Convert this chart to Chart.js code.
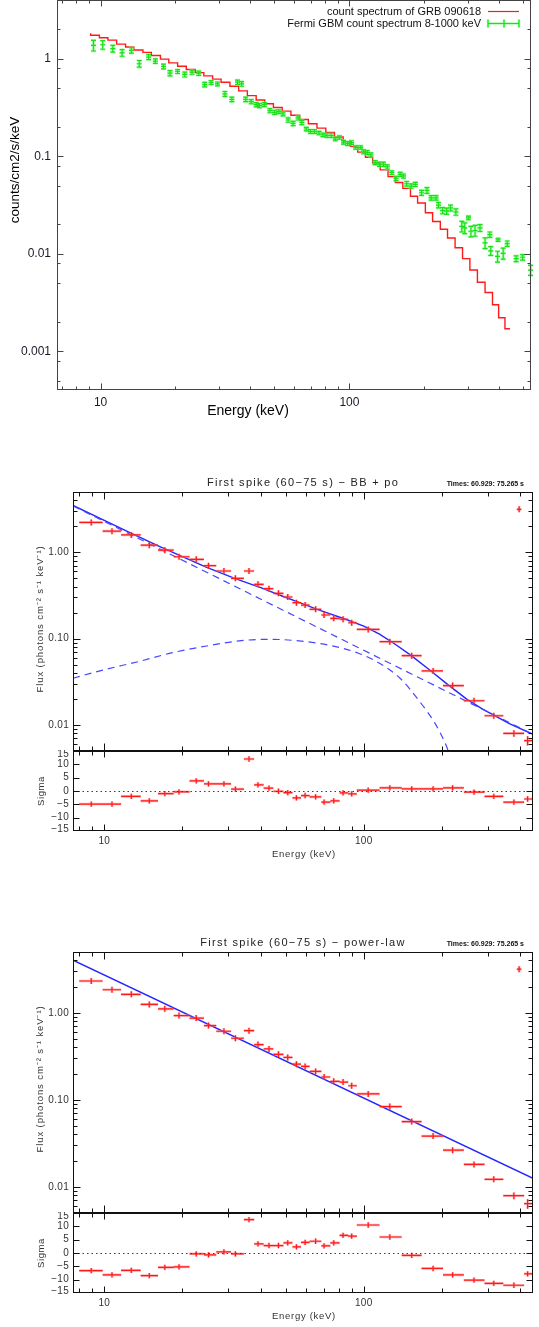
<!DOCTYPE html>
<html>
<head>
<meta charset="utf-8">
<script src="https://cdn.jsdelivr.net/npm/chart.js@4.4.1/dist/chart.umd.min.js"></script>
<style>
  html, body { margin: 0; padding: 0; background: #fff; }
  #wrap { position: relative; width: 539px; height: 1327px; overflow: hidden; }
  #wrap canvas { position: absolute; left: 0; }
</style>
</head>
<body>
<div id="wrap">
  <canvas id="gbm" width="539" height="432" style="top:0px"></canvas>
  <canvas id="bbFluxPanel" width="539" height="282" style="top:470px"></canvas>
  <canvas id="bbSigmaPanel" width="539" height="115" style="top:750px"></canvas>
  <canvas id="plFluxPanel" width="539" height="284" style="top:930px"></canvas>
  <canvas id="plSigmaPanel" width="539" height="115" style="top:1212px"></canvas>
</div>
<script>
// model count spectrum of GRB 090618 (channel low edge in keV, counts/cm2/s/keV)
const modelEnergy = [9.12, 9.89, 10.7, 11.6, 12.6, 13.6, 14.8, 16.0, 17.4, 18.8, 20.4, 22.1, 24.0, 26.0, 28.2, 30.5, 33.1, 35.9, 38.9, 42.2,
  45.7, 49.5, 53.7, 58.2, 63.1, 68.4, 74.1, 80.4, 87.1, 94.4, 101, 108, 116, 124, 133, 143, 153, 164, 176, 188,
  202, 216, 232, 248, 266, 285, 305, 327, 351, 376, 398, 422, 442];
const modelCounts = [1.82, 1.74, 1.64, 1.55, 1.41, 1.32, 1.23, 1.16, 1.08, 0.99, 0.906, 0.838, 0.776, 0.720, 0.667, 0.618, 0.573, 0.522, 0.468, 0.418,
  0.377, 0.345, 0.316, 0.290, 0.263, 0.238, 0.215, 0.194, 0.175, 0.158, 0.141, 0.126, 0.110, 0.0977, 0.0851, 0.0724, 0.0617, 0.0537, 0.0468, 0.0389,
  0.0331, 0.0263, 0.0214, 0.0178, 0.0145, 0.0115, 0.0089, 0.0068, 0.0051, 0.0040, 0.0030, 0.0022, 0.0017];

// Fermi GBM count spectrum 8-1000 keV
const gbmEnergy = [9.36, 10.2, 11.2, 12.2, 13.3, 14.3, 15.6, 16.6, 17.9, 19.0, 20.4, 21.8, 23.3, 24.8, 26.2, 27.8, 29.5, 31.6, 33.7, 35.5,
  36.9, 38.3, 40.3, 42.2, 43.5, 45.5, 47.9, 50.1, 52.0, 54.1, 56.7, 59.4, 62.2, 64.4, 67.1, 69.7, 72.4, 75.5, 78.3, 81.3,
  84.5, 87.8, 91.2, 94.7, 98.4, 102, 106, 111, 114, 118, 122, 127, 132, 137, 142, 148, 154, 160, 165, 170,
  177, 184, 195, 205, 213, 223, 228, 237, 246, 255, 268, 283, 291, 301, 308, 320, 335, 351, 367, 370,
  394, 396, 415, 431, 468, 497, 535];
const gbmCounts = [1.37, 1.39, 1.27, 1.15, 1.22, 0.888, 1.04, 0.945, 0.833, 0.711, 0.740, 0.689, 0.728, 0.711, 0.543, 0.570, 0.552, 0.436, 0.383, 0.574,
  0.552, 0.383, 0.363, 0.338, 0.330, 0.338, 0.293, 0.282, 0.286, 0.271, 0.235, 0.217, 0.247, 0.222, 0.190, 0.179, 0.179, 0.173, 0.166, 0.163,
  0.163, 0.150, 0.156, 0.139, 0.135, 0.138, 0.123, 0.123, 0.111, 0.109, 0.103, 0.0859, 0.0828, 0.0828, 0.0776, 0.0678, 0.0593, 0.0652, 0.0627, 0.0522,
  0.0494, 0.0514, 0.0422, 0.0446, 0.0374, 0.0374, 0.0315, 0.0277, 0.0273, 0.0295, 0.0268, 0.0191, 0.0184, 0.0233, 0.0170, 0.0173, 0.0184, 0.0129, 0.0157, 0.0107,
  0.0094, 0.0139, 0.0101, 0.0127, 0.0089, 0.0092, 0.0068];
const gbmError = [0.17, 0.14, 0.10, 0.09, 0.08, 0.07, 0.06, 0.05, 0.045, 0.045, 0.035, 0.04, 0.035, 0.035, 0.03, 0.025, 0.025, 0.025, 0.02, 0.03,
  0.03, 0.02, 0.018, 0.017, 0.016, 0.016, 0.014, 0.014, 0.012, 0.012, 0.012, 0.011, 0.012, 0.011, 0.008, 0.008, 0.008, 0.007, 0.007, 0.007,
  0.007, 0.006, 0.006, 0.006, 0.006, 0.006, 0.005, 0.005, 0.005, 0.005, 0.005, 0.004, 0.004, 0.004, 0.004, 0.003, 0.003, 0.003, 0.003, 0.0028,
  0.0025, 0.0025, 0.0025, 0.003, 0.002, 0.002, 0.002, 0.002, 0.002, 0.002, 0.002, 0.0024, 0.0023, 0.001, 0.0021, 0.0022, 0.0015, 0.0016, 0.001, 0.0011,
  0.0012, 0.0005, 0.0013, 0.0008, 0.0006, 0.0006, 0.0008];

// first spike (60-75 s): channel grid shared by both fits
const chanEnergy = [8.90, 10.7, 12.7, 14.9, 17.1, 19.4, 22.6, 25.2, 28.9, 32.0, 36.1, 39.1, 43.1, 46.9, 50.9, 55.0, 59.4, 65.2, 70.3, 76.6,
  83.2, 89.8, 104, 126, 153, 185, 220, 266, 317, 379, 428];
const chanLo = [8.0, 9.85, 11.6, 13.8, 16.1, 18.5, 21.3, 24.2, 27.0, 30.8, 34.5, 37.8, 41.1, 44.8, 49.0, 53.1, 57.3, 61.8, 68.6, 74.3,
  80.7, 87.1, 94.0, 115, 140, 167, 202, 243, 292, 345, 415];
const chanHi = [9.85, 11.6, 13.8, 16.1, 18.5, 21.3, 24.2, 27.0, 30.8, 34.5, 37.8, 41.1, 44.8, 49.0, 53.1, 57.3, 61.8, 68.6, 74.3, 80.7,
  87.1, 94.0, 115, 140, 167, 202, 243, 292, 345, 415, 470];

// BB + po fit: unfolded flux and residuals
const bbFlux = [2.22, 1.76, 1.59, 1.21, 1.06, 0.889, 0.830, 0.700, 0.608, 0.500, 0.608, 0.426, 0.379, 0.335, 0.304, 0.261, 0.245, 0.219, 0.188, 0.172,
  0.168, 0.153, 0.128, 0.0923, 0.0636, 0.0423, 0.0286, 0.0191, 0.0128, 0.0080, 0.0066];
const bbFluxErr = [0.05, 0.04, 0.035, 0.025, 0.02, 0.018, 0.016, 0.014, 0.012, 0.01, 0.012, 0.008, 0.007, 0.006, 0.006, 0.005, 0.005, 0.004, 0.004, 0.0035,
  0.0035, 0.003, 0.003, 0.0022, 0.0018, 0.0014, 0.0011, 0.0009, 0.0008, 0.0007, 0.0008];
const bbSigma = [-4.9, -4.9, -2.0, -3.7, -1.0, -0.3, 3.8, 2.7, 2.7, 0.7, 12.0, 2.3, 1.1, -0.1, -0.6, -2.6, -1.7, -2.2, -4.2, -3.7,
  -0.7, -1.1, 0.3, 1.2, 0.8, 0.8, 1.2, -0.4, -2.0, -4.2, -3.0];

// power-law fit: unfolded flux and residuals
const plFlux = [2.32, 1.84, 1.63, 1.25, 1.11, 0.93, 0.869, 0.713, 0.614, 0.510, 0.624, 0.431, 0.384, 0.333, 0.307, 0.257, 0.242, 0.212, 0.183, 0.163,
  0.160, 0.145, 0.117, 0.0837, 0.0562, 0.0383, 0.0264, 0.0181, 0.0122, 0.0079, 0.0064];
const plFluxErr = [0.05, 0.04, 0.035, 0.025, 0.02, 0.018, 0.016, 0.014, 0.012, 0.01, 0.012, 0.008, 0.007, 0.006, 0.006, 0.005, 0.005, 0.004, 0.004, 0.0035,
  0.0035, 0.003, 0.003, 0.0022, 0.0018, 0.0014, 0.0011, 0.0009, 0.0008, 0.0007, 0.0008];
const plSigma = [-6.6, -8.2, -6.5, -8.5, -5.4, -5.2, -0.3, -0.7, 0.4, -0.3, 12.5, 3.4, 2.8, 2.8, 3.8, 2.3, 4.0, 4.4, 2.7, 3.8,
  6.6, 6.3, 10.5, 6.0, -0.9, -5.8, -8.2, -10.2, -11.4, -12.1, -7.8];

// isolated high channel drawn above the spectrum
const strayEnergy = [397];
const strayLo = [389];
const strayHi = [405];
const bbStrayFlux = [3.15];
const plStrayFlux = [3.17];

// model curves
const bbTotalEnergy = [7.57, 9.9, 12.6, 16.2, 19.5, 24.8, 31.8, 40.5, 50.1, 55, 66.1, 84, 100, 115, 133, 152, 180, 212, 250, 286, 364, 449];
const bbTotalFlux = [3.50, 2.37, 1.68, 1.18, 0.92, 0.67, 0.50, 0.385, 0.300, 0.270, 0.218, 0.170, 0.140, 0.113, 0.085, 0.064, 0.043, 0.029, 0.0198, 0.0154, 0.0104, 0.0078];
const bbPoEnergy = [7.57, 449];
const bbPoFlux = [3.45, 0.0078];
const bbBodyEnergy = [7.57, 9.9, 13.5, 18.3, 24.8, 33.7, 43.1, 55.1, 72.6, 95.5, 115, 138, 166, 188, 206, 213];
const bbBodyFlux = [0.0348, 0.0434, 0.0542, 0.0689, 0.0823, 0.0948, 0.0984, 0.0948, 0.0845, 0.0678, 0.0519, 0.0348, 0.0179, 0.0105, 0.00615, 0.0048];
const plModelEnergy = [7.57, 449];
const plModelFlux = [4.02, 0.0125];

// tick labels
const countTickValues = [1, 0.1, 0.01, 0.001];
const countTickLabels = ['1', '0.1', '0.01', '0.001'];
const energyTickValues = [10, 100];
const energyTickLabels = ['10', '100'];
const fluxTickValues = [1, 0.1, 0.01];
const fluxTickLabels = ['1.00', '0.10', '0.01'];
const sigmaTickValues = [15, 10, 5, 0, -5, -10, -15];
const sigmaTickLabels = ['15', '10', '5', '0', '\u22125', '\u221210', '\u221215'];

const SANS = '"Liberation Sans", Arial, Helvetica, sans-serif';
const RED = '#ff1a1a';
const BLUE = '#2424ff';

function logTicks(lo, hi, mults) {
  const out = [];
  for (let d = Math.floor(Math.log10(lo)); d <= Math.ceil(Math.log10(hi)); d++) {
    mults.forEach(m => {
      const v = m * Math.pow(10, d);
      if (v >= lo * 0.999 && v <= hi * 1.001) out.push({ v, major: m === 1 });
    });
  }
  return out;
}

// error bars / crosses, drawn from each dataset's points through the chart scales
const errorBars = {
  id: 'errorBars',
  afterDatasetsDraw(chart) {
    const { ctx, chartArea: a, scales: { x, y } } = chart;
    chart.data.datasets.forEach(ds => {
      if (!ds.bars) return;
      const b = ds.bars;
      ctx.save();
      if (b.clip) { ctx.beginPath(); ctx.rect(a.left, a.top, a.right - a.left, a.bottom - a.top); ctx.clip(); }
      const passes = [{ w: b.haloWidth, c: b.halo }, { w: b.width, c: b.color }];
      passes.forEach(pass => {
        ctx.strokeStyle = pass.c;
        ctx.lineWidth = pass.w;
        ctx.beginPath();
        ds.data.forEach(p => {
          const px = x.getPixelForValue(p.x), py = y.getPixelForValue(p.y);
          let top = y.getPixelForValue(p.yMax), bot = y.getPixelForValue(p.yMin);
          if (b.style === 'cross') {
            top = Math.min(top, py - b.arm); bot = Math.max(bot, py + b.arm);
            ctx.moveTo(x.getPixelForValue(p.xMin), py); ctx.lineTo(x.getPixelForValue(p.xMax), py);
            ctx.moveTo(px, top); ctx.lineTo(px, bot);
          } else {
            ctx.moveTo(px, top); ctx.lineTo(px, bot);
            ctx.moveTo(px - b.cap, top); ctx.lineTo(px + b.cap, top);
            ctx.moveTo(px - b.cap, bot); ctx.lineTo(px + b.cap, bot);
            ctx.moveTo(px - b.cap, py); ctx.lineTo(px + b.cap, py);
          }
        });
        ctx.stroke();
      });
      ctx.restore();
    });
  }
};

// box, inward ticks, tick labels and free text for one panel
function makeFrame(f) {
  return {
    id: 'frame',
    afterDraw(chart) {
      const { ctx, chartArea: a, scales: { x, y } } = chart;
      const L = Math.round(a.left) + 0.5, R = Math.round(a.right) - 0.5;
      const T = Math.round(a.top) + 0.5, B = Math.round(a.bottom) - 0.5;
      ctx.save();
      ctx.strokeStyle = f.color;
      ctx.lineWidth = 1;
      if (f.zeroLine) {
        ctx.save();
        ctx.strokeStyle = BLUE; ctx.setLineDash([1.5, 3]);
        const z = Math.round(y.getPixelForValue(0)) + 0.5;
        ctx.beginPath(); ctx.moveTo(L, z); ctx.lineTo(R, z); ctx.stroke();
        ctx.restore();
      }
      ctx.strokeRect(L, T, R - L, B - T);
      ctx.beginPath();
      f.xTicks.forEach(t => {
        const px = Math.round(x.getPixelForValue(t.v)) + 0.5;
        const len = t.major ? f.majorLen : f.minorLen;
        if (px < L || px > R) return;
        ctx.moveTo(px, B); ctx.lineTo(px, B - len);
        ctx.moveTo(px, T); ctx.lineTo(px, T + len);
      });
      f.yTicks.forEach(t => {
        const py = Math.round(y.getPixelForValue(t.v)) + 0.5;
        const len = t.major ? f.majorLen : f.minorLen;
        if (py < T - 0.1 || py > B + 0.1) return;
        ctx.moveTo(L, py); ctx.lineTo(L + len, py);
        ctx.moveTo(R, py); ctx.lineTo(R - len, py);
      });
      ctx.stroke();

      ctx.fillStyle = f.textColor;
      ctx.textBaseline = 'middle';
      if (f.yLabels) {
        ctx.font = f.tickFont;
        ctx.textAlign = 'right';
        ctx.letterSpacing = f.tickSpacing || '0px';
        f.yLabels.values.forEach((v, i) => {
          let py = y.getPixelForValue(v);
          py = Math.max(a.top + f.clampTop, Math.min(a.bottom - f.clampBottom, py));
          ctx.fillText(f.yLabels.text[i], a.left - f.yGap, py);
        });
      }
      if (f.xLabels) {
        ctx.font = f.tickFont;
        ctx.textAlign = 'center';
        ctx.letterSpacing = f.tickSpacing || '0px';
        f.xLabels.values.forEach((v, i) => {
          ctx.fillText(f.xLabels.text[i], x.getPixelForValue(v), a.bottom + f.xGap);
        });
      }
      (f.texts || []).forEach(t => {
        ctx.save();
        ctx.font = t.font;
        ctx.fillStyle = t.color || f.textColor;
        ctx.letterSpacing = t.spacing || '0px';
        ctx.textAlign = t.align || 'center';
        ctx.textBaseline = 'middle';
        ctx.translate(t.x, t.y);
        if (t.rot) ctx.rotate(t.rot);
        ctx.fillText(t.text, 0, 0);
        ctx.restore();
      });
      ctx.restore();
    }
  };
}

function makeChart(id, cfg, extraPlugins) {
  return new Chart(document.getElementById(id), {
    type: 'scatter',
    data: { datasets: cfg.datasets },
    options: {
      responsive: false,
      animation: false,
      events: [],
      layout: { padding: cfg.pad },
      scales: {
        x: { type: 'logarithmic', display: false, min: cfg.xMin, max: cfg.xMax },
        y: { type: cfg.yType, display: false, min: cfg.yMin, max: cfg.yMax }
      },
      plugins: { legend: { display: false }, tooltip: { enabled: false } }
    },
    plugins: [errorBars, makeFrame(cfg.frame)].concat(extraPlugins || [])
  });
}

function lineSet(xs, ys, style) {
  return Object.assign({
    data: xs.map((v, i) => ({ x: v, y: ys[i] })),
    showLine: true, pointRadius: 0, fill: false
  }, style);
}

function crossSet(xs, lo, hi, ys, err, arm) {
  return {
    data: xs.map((v, i) => ({ x: v, y: ys[i], xMin: lo[i], xMax: hi[i], yMin: ys[i] - err[i], yMax: ys[i] + err[i] })),
    pointRadius: 0,
    bars: { style: 'cross', arm, clip: true, color: RED, width: 1.2, halo: 'rgba(255,120,120,0.55)', haloWidth: 2.6 }
  };
}

// ---------------- top: GRB 090618 count spectrum ----------------
const gbmLegend = {
  id: 'gbmLegend',
  afterDraw(chart) {
    const { ctx } = chart;
    ctx.save();
    ctx.font = '11px ' + SANS;
    ctx.fillStyle = '#111';
    ctx.textAlign = 'right';
    ctx.textBaseline = 'middle';
    ctx.fillText('count spectrum of GRB 090618', 481, 12);
    ctx.fillText('Fermi GBM count spectrum 8-1000 keV', 481, 24);
    ctx.strokeStyle = RED; ctx.lineWidth = 1.2;
    ctx.beginPath(); ctx.moveTo(488, 11.5); ctx.lineTo(519, 11.5); ctx.stroke();
    [{ w: 2.6, c: 'rgba(120,255,120,0.6)' }, { w: 1.2, c: '#19e019' }].forEach(p => {
      ctx.strokeStyle = p.c; ctx.lineWidth = p.w;
      ctx.beginPath();
      ctx.moveTo(488, 23.5); ctx.lineTo(519, 23.5);
      [488, 504, 519].forEach(px => { ctx.moveTo(px, 19.5); ctx.lineTo(px, 27.5); });
      ctx.stroke();
    });
    ctx.restore();
  }
};

makeChart('gbm', {
  pad: { left: 57, right: 8, top: 0, bottom: 42 },
  xMin: 6.68, xMax: 537, yType: 'logarithmic', yMin: 4e-4, yMax: 4,
  datasets: [
    lineSet(modelEnergy, modelCounts, { borderColor: RED, borderWidth: 1.4, stepped: 'after' }),
    {
      data: gbmEnergy.map((v, i) => ({ x: v, y: gbmCounts[i], yMin: gbmCounts[i] - gbmError[i], yMax: gbmCounts[i] + gbmError[i] })),
      pointRadius: 0,
      bars: { style: 'bar', cap: 2.5, clip: false, color: '#19e019', width: 1.2, halo: 'rgba(120,255,120,0.6)', haloWidth: 2.6 }
    }
  ],
  frame: {
    color: '#444', textColor: '#1a1a2a', majorLen: 6, minorLen: 3,
    xTicks: logTicks(6.68, 537, [1, 2, 3, 4, 5, 6, 7, 8, 9]),
    yTicks: logTicks(4e-4, 4, [1, 2, 5, 8]),
    tickFont: '12px ' + SANS, yGap: 6, xGap: 13, clampTop: 0, clampBottom: 0,
    yLabels: { values: countTickValues, text: countTickLabels },
    xLabels: { values: energyTickValues, text: energyTickLabels },
    texts: [
      { text: 'counts/cm2/s/keV', x: 15, y: 170, rot: -Math.PI / 2, font: '13.5px ' + SANS, color: '#000' },
      { text: 'Energy (keV)', x: 248, y: 411, font: '14px ' + SANS, color: '#000' }
    ]
  }
}, [gbmLegend]);

// ---------------- shared pieces for the two unfolded-spectrum panels ----------------
const fluxFrame = (title) => ({
  color: '#111', textColor: '#333', majorLen: 7, minorLen: 4,
  xTicks: logTicks(7.57, 449, [1, 2, 3, 4, 5, 6, 7, 8, 9]),
  yTicks: logTicks(0.005, 5, [1, 2, 3, 4, 5, 6, 7, 8, 9]),
  tickFont: '10px ' + SANS, tickSpacing: '0.3px', yGap: 4, clampTop: 0, clampBottom: 0,
  yLabels: { values: fluxTickValues, text: fluxTickLabels },
  texts: [
    { text: title, x: 303, y: 13, font: '11px ' + SANS, spacing: '1.3px', color: '#222' },
    { text: 'Times: 60.929: 75.265 s', x: 524, y: 14, align: 'right', font: 'bold 7px ' + SANS, color: '#111' },
    { text: 'Flux (photons cm\u207B\u00B2 s\u207B\u00B9 keV\u207B\u00B9)', x: 40, y: 149, rot: -Math.PI / 2, font: '9.5px ' + SANS, spacing: '0.9px', color: '#333' }
  ]
});

const sigmaFrame = () => ({
  color: '#111', textColor: '#333', majorLen: 6, minorLen: 4, zeroLine: true,
  xTicks: logTicks(7.57, 449, [1, 2, 3, 4, 5, 6, 7, 8, 9]),
  yTicks: sigmaTickValues.map(v => ({ v, major: true })),
  tickFont: '10px ' + SANS, tickSpacing: '0.3px', yGap: 4, xGap: 10, clampTop: 3, clampBottom: 2,
  yLabels: { values: sigmaTickValues, text: sigmaTickLabels },
  xLabels: { values: energyTickValues, text: energyTickLabels },
  texts: [
    { text: 'Sigma', x: 41, y: 41, rot: -Math.PI / 2, font: '9.5px ' + SANS, spacing: '0.6px', color: '#333' },
    { text: 'Energy (keV)', x: 304, y: 104, font: '9.5px ' + SANS, spacing: '0.7px', color: '#333' }
  ]
});

const sigmaErr = chanEnergy.map(() => 1);

// ---------------- middle: BB + po ----------------
makeChart('bbFluxPanel', {
  pad: { left: 73, right: 6, top: 22, bottom: 1 },
  xMin: 7.57, xMax: 449, yType: 'logarithmic', yMin: 0.005, yMax: 5,
  datasets: [
    lineSet(bbPoEnergy, bbPoFlux, { borderColor: '#4646ff', borderWidth: 1.2, borderDash: [7, 5] }),
    lineSet(bbBodyEnergy, bbBodyFlux, { borderColor: '#4646ff', borderWidth: 1.2, borderDash: [7, 5], cubicInterpolationMode: 'monotone' }),
    lineSet(bbTotalEnergy, bbTotalFlux, { borderColor: BLUE, borderWidth: 1.4 }),
    crossSet(chanEnergy, chanLo, chanHi, bbFlux, bbFluxErr, 3),
    crossSet(strayEnergy, strayLo, strayHi, bbStrayFlux, [0.05], 3)
  ],
  frame: fluxFrame('First spike (60\u221275 s) \u2212 BB + po')
});

makeChart('bbSigmaPanel', {
  pad: { left: 73, right: 6, top: 1, bottom: 34 },
  xMin: 7.57, xMax: 449, yType: 'linear', yMin: -15, yMax: 15,
  datasets: [crossSet(chanEnergy, chanLo, chanHi, bbSigma, sigmaErr, 2.5)],
  frame: sigmaFrame()
});

// ---------------- bottom: power-law ----------------
makeChart('plFluxPanel', {
  pad: { left: 73, right: 6, top: 22, bottom: 1 },
  xMin: 7.57, xMax: 449, yType: 'logarithmic', yMin: 0.005, yMax: 5,
  datasets: [
    lineSet(plModelEnergy, plModelFlux, { borderColor: BLUE, borderWidth: 1.4 }),
    crossSet(chanEnergy, chanLo, chanHi, plFlux, plFluxErr, 3),
    crossSet(strayEnergy, strayLo, strayHi, plStrayFlux, [0.05], 3)
  ],
  frame: fluxFrame('First spike (60\u221275 s) \u2212 power-law')
});

makeChart('plSigmaPanel', {
  pad: { left: 73, right: 6, top: 1, bottom: 34 },
  xMin: 7.57, xMax: 449, yType: 'linear', yMin: -15, yMax: 15,
  datasets: [crossSet(chanEnergy, chanLo, chanHi, plSigma, sigmaErr, 2.5)],
  frame: sigmaFrame()
});
</script>
</body>
</html>
